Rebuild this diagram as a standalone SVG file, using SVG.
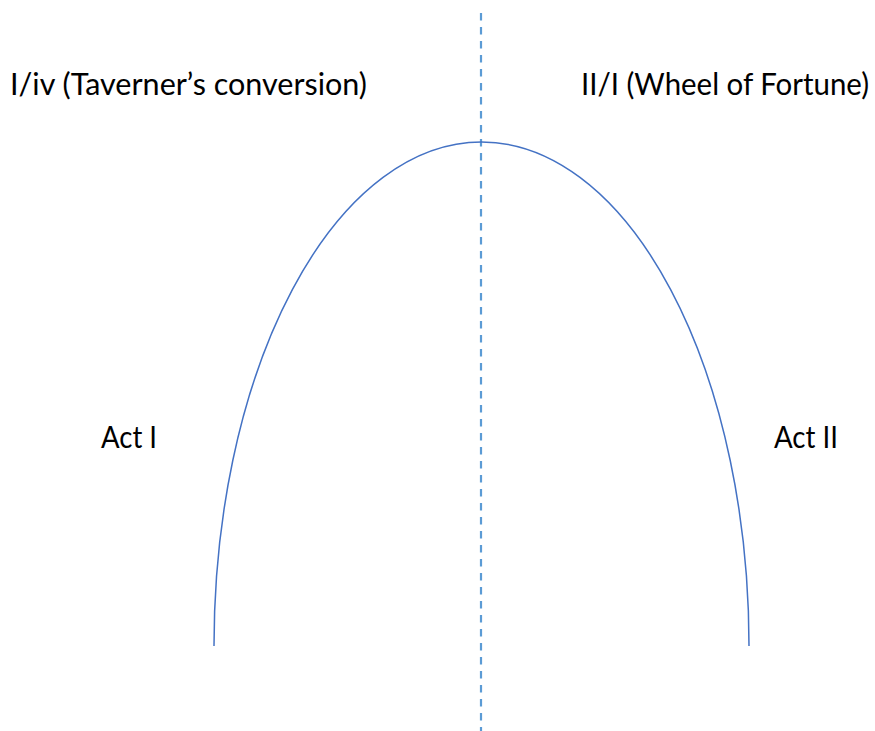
<svg xmlns="http://www.w3.org/2000/svg" width="875" height="731" viewBox="0 0 875 731">
<style>
.lbl{font-family:Lato,"Liberation Sans",Arial,sans-serif;font-size:30px;fill:#000}
</style>
<rect width="875" height="731" fill="#fff"/>
<g id="connectors">
<line x1="481" y1="13" x2="481" y2="731" stroke="#5B9BD5" stroke-width="2.2" stroke-dasharray="7.5 6.5"/>
<path d="M214,646 A267.5,504 0 0 1 749,646" fill="none" stroke="#4472C4" stroke-width="1.5"/>
</g>
<g id="label-left"><text class="lbl" x="10" y="95" textLength="357" lengthAdjust="spacingAndGlyphs">I/iv (Taverner’s conversion)</text></g>
<g id="label-right"><text class="lbl" x="581" y="95" textLength="288" lengthAdjust="spacingAndGlyphs">II/I (Wheel of Fortune)</text></g>
<g id="act1"><text class="lbl" x="101" y="448" textLength="56" lengthAdjust="spacingAndGlyphs">Act I</text></g>
<g id="act2"><text class="lbl" x="774" y="448" textLength="64" lengthAdjust="spacingAndGlyphs">Act II</text></g>
</svg>
